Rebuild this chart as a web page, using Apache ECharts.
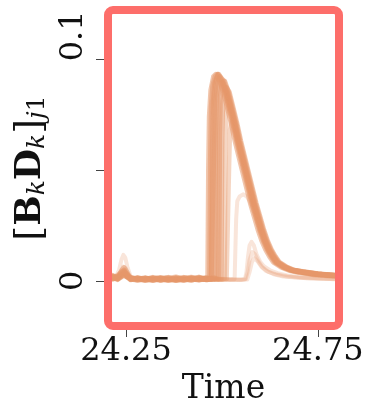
<!DOCTYPE html>
<html>
<head>
<meta charset="utf-8">
<script src="https://cdn.jsdelivr.net/npm/echarts@6/dist/echarts.min.js"></script>
<style>
html,body{margin:0;padding:0;background:#fff;}
#chart{width:370px;height:398px;}
</style>
</head>
<body>
<div id="chart"></div>
<script>
// ---- axis ticks / labels ----
const xTickValues = [24.25, 24.75];
const xTickLabels = ['24.25', '24.75'];
const yTickValues = [0, 0.05, 0.1];
const yLabelValues = [0, 0.1];
const yTickLabels = ['0', '0.1'];
const xName = 'Time';

// ---- traces: [time, value] ----
const trace1 = [[24.203,0.0025],[24.215,0.002],[24.228,0.0015],[24.238,0.003],[24.245,0.004],[24.252,0.0025],[24.262,0.001],[24.28,0.0008],[24.30,0.0015],[24.32,0.0005],[24.34,0.001],[24.36,0.0003],[24.38,0.0012],[24.40,0.0006],[24.42,0.0015],[24.44,0.0008],[24.455,0.0012],
[24.463,0.001],[24.465,0.05],[24.467,0.074],[24.471,0.086],[24.478,0.092],[24.484,0.093],[24.494,0.09],[24.504,0.085],[24.514,0.078],[24.524,0.071],[24.534,0.063],[24.544,0.056],[24.554,0.049],[24.564,0.042],[24.574,0.035],[24.584,0.029],[24.594,0.023],[24.604,0.018],[24.614,0.014],[24.624,0.011],[24.634,0.0085],[24.654,0.0062],[24.674,0.0048],[24.70,0.0038],[24.74,0.0028],[24.80,0.002]];
const trace2 = [[24.203,0.0015],[24.215,0.0022],[24.228,0.001],[24.238,0.0045],[24.245,0.006],[24.252,0.004],[24.262,0.0012],[24.28,0.0004],[24.30,0.001],[24.32,0.0012],[24.34,0.0002],[24.36,0.0009],[24.38,0.0004],[24.40,0.0014],[24.42,0.0007],[24.44,0.0016],[24.46,0.0006],
[24.468,0.001],[24.470,0.055],[24.472,0.078],[24.476,0.088],[24.482,0.092],[24.488,0.093],[24.498,0.09],[24.508,0.085],[24.518,0.078],[24.528,0.071],[24.538,0.063],[24.548,0.056],[24.558,0.049],[24.568,0.042],[24.578,0.035],[24.588,0.029],[24.598,0.023],[24.608,0.018],[24.618,0.014],[24.628,0.011],[24.638,0.0085],[24.658,0.0062],[24.678,0.0048],[24.70,0.0041],[24.74,0.003],[24.80,0.0023]];
const trace3 = [[24.203,0.003],[24.215,0.0012],[24.228,0.002],[24.238,0.0025],[24.245,0.003],[24.252,0.002],[24.262,0.0005],[24.28,0.0012],[24.30,0.0003],[24.32,0.001],[24.34,0.0015],[24.36,0.0007],[24.38,0.0002],[24.40,0.0009],[24.42,0.0004],[24.44,0.0011],[24.46,0.0014],
[24.473,0.001],[24.475,0.06],[24.477,0.08],[24.481,0.089],[24.487,0.092],[24.492,0.093],[24.502,0.09],[24.512,0.085],[24.522,0.078],[24.532,0.071],[24.542,0.063],[24.552,0.056],[24.562,0.049],[24.572,0.042],[24.582,0.035],[24.592,0.029],[24.602,0.023],[24.612,0.018],[24.622,0.014],[24.632,0.011],[24.642,0.0085],[24.662,0.0062],[24.682,0.0048],[24.71,0.0039],[24.75,0.003],[24.80,0.0024]];
const trace4 = [[24.203,0.002],[24.215,0.0008],[24.228,0.0018],[24.238,0.0035],[24.245,0.005],[24.252,0.003],[24.262,0.0015],[24.28,0.0006],[24.30,0.0012],[24.32,0.0002],[24.34,0.0008],[24.36,0.0016],[24.38,0.0006],[24.40,0.0002],[24.42,0.0012],[24.44,0.0005],[24.46,0.001],[24.472,0.0006],
[24.477,0.001],[24.479,0.06],[24.481,0.082],[24.485,0.09],[24.49,0.093],[24.5,0.09],[24.51,0.085],[24.52,0.078],[24.53,0.071],[24.54,0.063],[24.55,0.056],[24.56,0.049],[24.57,0.042],[24.58,0.035],[24.59,0.029],[24.6,0.023],[24.61,0.018],[24.62,0.014],[24.63,0.011],[24.64,0.0085],[24.66,0.0062],[24.68,0.0048],[24.7,0.004],[24.74,0.003],[24.8,0.0022]];
const trace5 = [[24.203,0.001],[24.215,0.0018],[24.228,0.0006],[24.238,0.002],[24.245,0.0028],[24.252,0.0018],[24.262,0.0008],[24.28,0.0015],[24.30,0.0006],[24.32,0.0014],[24.34,0.0004],[24.36,0.0011],[24.38,0.0018],[24.40,0.0008],[24.42,0.0003],[24.44,0.0013],[24.46,0.0007],[24.475,0.0012],
[24.481,0.001],[24.483,0.065],[24.485,0.083],[24.489,0.089],[24.495,0.092],[24.505,0.09],[24.515,0.085],[24.525,0.078],[24.535,0.071],[24.545,0.063],[24.555,0.056],[24.565,0.049],[24.575,0.042],[24.585,0.035],[24.595,0.029],[24.605,0.023],[24.615,0.018],[24.625,0.014],[24.635,0.011],[24.645,0.0085],[24.665,0.0062],[24.685,0.0048],[24.71,0.0042],[24.75,0.0032],[24.8,0.0025]];
const trace6 = [[24.203,0.0022],[24.215,0.0014],[24.228,0.0024],[24.238,0.004],[24.245,0.0045],[24.252,0.0026],[24.262,0.0009],[24.28,0.0003],[24.30,0.0008],[24.32,0.0016],[24.34,0.0009],[24.36,0.0002],[24.38,0.001],[24.40,0.0016],[24.42,0.0009],[24.44,0.0004],[24.46,0.0012],[24.48,0.0007],
[24.486,0.001],[24.488,0.065],[24.49,0.083],[24.494,0.089],[24.503,0.089],[24.513,0.085],[24.523,0.078],[24.533,0.071],[24.543,0.063],[24.553,0.056],[24.563,0.049],[24.573,0.042],[24.583,0.035],[24.593,0.029],[24.603,0.023],[24.613,0.018],[24.623,0.014],[24.633,0.011],[24.643,0.0085],[24.663,0.0062],[24.683,0.0048],[24.71,0.004],[24.75,0.0031],[24.8,0.0023]];
const trace7 = [[24.203,0.0018],[24.215,0.0025],[24.228,0.0012],[24.238,0.0022],[24.245,0.0035],[24.252,0.002],[24.262,0.0014],[24.28,0.0009],[24.30,0.0002],[24.32,0.0008],[24.34,0.0013],[24.36,0.0006],[24.38,0.0015],[24.40,0.0004],[24.42,0.001],[24.44,0.0017],[24.46,0.0005],[24.48,0.0011],
[24.492,0.001],[24.494,0.065],[24.496,0.083],[24.5,0.088],[24.507,0.09],[24.517,0.085],[24.527,0.078],[24.537,0.071],[24.547,0.063],[24.557,0.056],[24.567,0.049],[24.577,0.042],[24.587,0.035],[24.597,0.029],[24.607,0.023],[24.617,0.018],[24.627,0.014],[24.637,0.011],[24.647,0.0085],[24.667,0.0062],[24.687,0.0048],[24.71,0.0041],[24.75,0.0031],[24.8,0.0024]];
const trace8 = [[24.203,0.0028],[24.215,0.0016],[24.228,0.0008],[24.238,0.003],[24.245,0.0042],[24.252,0.0032],[24.262,0.0006],[24.28,0.0013],[24.30,0.0009],[24.32,0.0003],[24.34,0.0012],[24.36,0.0014],[24.38,0.0003],[24.40,0.0011],[24.42,0.0017],[24.44,0.0006],[24.46,0.0009],[24.48,0.0014],[24.49,0.0006],
[24.498,0.001],[24.5,0.065],[24.502,0.08],[24.506,0.086],[24.512,0.087],[24.519,0.085],[24.529,0.078],[24.539,0.071],[24.549,0.063],[24.559,0.056],[24.569,0.049],[24.579,0.042],[24.589,0.035],[24.599,0.029],[24.609,0.023],[24.619,0.018],[24.629,0.014],[24.639,0.011],[24.649,0.0085],[24.669,0.0062],[24.689,0.0048],[24.72,0.0038],[24.76,0.003],[24.8,0.0025]];
const trace9 = [[24.203,0.0012],[24.23,0.0015],[24.245,0.0032],[24.26,0.0012],[24.3,0.0007],[24.34,0.001],[24.38,0.0005],[24.42,0.0012],[24.46,0.0004],[24.49,0.001],[24.5,0.0006],
[24.507,0.001],[24.509,0.06],[24.511,0.076],[24.515,0.082],[24.52,0.081],[24.524,0.078],[24.534,0.071],[24.544,0.063],[24.554,0.056],[24.564,0.049],[24.574,0.042],[24.584,0.035],[24.594,0.029],[24.604,0.023],[24.614,0.018],[24.624,0.014],[24.634,0.011],[24.644,0.0085],[24.664,0.0062],[24.684,0.0048],[24.71,0.004],[24.75,0.003],[24.8,0.0023]];
const trace10 = [[24.203,0.0008],[24.23,0.001],[24.245,0.0025],[24.26,0.0008],[24.3,0.0012],[24.34,0.0004],[24.38,0.0011],[24.42,0.0006],[24.46,0.0012],[24.5,0.0005],[24.512,0.0008],
[24.517,0.001],[24.519,0.055],[24.521,0.068],[24.525,0.072],[24.532,0.069],[24.542,0.063],[24.552,0.056],[24.562,0.049],[24.572,0.042],[24.582,0.035],[24.592,0.029],[24.602,0.023],[24.612,0.018],[24.622,0.014],[24.632,0.011],[24.642,0.0085],[24.662,0.0062],[24.682,0.0048],[24.71,0.004],[24.75,0.003],[24.8,0.0022]];
const bumpTrace1 = [[24.203,0.001],[24.23,0.0012],[24.245,0.003],[24.26,0.001],[24.3,0.0005],[24.34,0.0012],[24.38,0.0006],[24.42,0.001],[24.46,0.0004],[24.5,0.0009],[24.52,0.0005],[24.533,0.0008],
[24.535,0.001],[24.537,0.028],[24.54,0.036],[24.546,0.038],[24.555,0.039],[24.565,0.038],[24.575,0.035],[24.585,0.03],[24.595,0.025],[24.605,0.02],[24.615,0.0155],[24.625,0.012],[24.64,0.009],[24.66,0.0065],[24.68,0.005],[24.71,0.004],[24.75,0.003],[24.8,0.0022]];
const bumpTrace2 = [[24.203,0.0008],[24.222,0.0012],[24.232,0.005],[24.238,0.0095],[24.243,0.0117],[24.248,0.0105],[24.254,0.006],[24.262,0.002],[24.28,0.0008],[24.32,0.0006],[24.36,0.001],[24.40,0.0004],[24.44,0.0009],[24.48,0.0005],[24.52,0.0008],[24.55,0.0004],
[24.56,0.0008],[24.564,0.004],[24.568,0.011],[24.572,0.016],[24.577,0.0176],[24.583,0.016],[24.59,0.012],[24.6,0.0085],[24.61,0.0065],[24.625,0.0048],[24.645,0.0035],[24.67,0.0025],[24.7,0.0018],[24.75,0.0012],[24.8,0.001]];
const bumpTrace3 = [[24.203,0.001],[24.225,0.0015],[24.236,0.004],[24.243,0.0065],[24.25,0.0055],[24.258,0.002],[24.28,0.0007],[24.32,0.001],[24.36,0.0004],[24.40,0.0009],[24.44,0.0003],[24.48,0.0008],[24.52,0.0004],
[24.562,0.0008],[24.567,0.004],[24.572,0.0095],[24.579,0.013],[24.586,0.012],[24.595,0.0088],[24.605,0.0062],[24.62,0.0042],[24.64,0.003],[24.67,0.002],[24.72,0.0012],[24.8,0.0008]];
const bumpTrace4 = [[24.203,0.0012],[24.23,0.0008],[24.245,0.002],[24.26,0.001],[24.3,0.0006],[24.34,0.0011],[24.38,0.0004],[24.42,0.0009],[24.46,0.0005],[24.5,0.001],[24.54,0.0005],
[24.566,0.0006],[24.572,0.004],[24.578,0.0085],[24.584,0.0102],[24.592,0.009],[24.602,0.0065],[24.615,0.0045],[24.635,0.003],[24.66,0.002],[24.7,0.0014],[24.8,0.0008]];

const mainTraces = [trace1, trace2, trace3, trace4, trace5, trace6, trace7, trace8];
const paleTraces = [trace9, trace10];
const lightTraces = [bumpTrace1, bumpTrace2, bumpTrace3, bumpTrace4];

// ---- styling ----
const xMin = 24.203, xMax = 24.805, yMin = -0.0203, yMax = 0.122;
const lineRGB = '230,152,106';
const serif = 'DejaVu Serif';

const chart = echarts.init(document.getElementById('chart'), null, {renderer: 'canvas'});

function mk(data, alpha, width) {
  return {
    type: 'line', data: data, showSymbol: false, symbol: 'none',
    lineStyle: {color: 'rgba(' + lineRGB + ',' + alpha + ')', width: width, join: 'round', cap: 'round'},
    silent: true, animation: false, z: 2
  };
}
const series = [];
lightTraces.forEach(d => series.push(mk(d, 0.25, 4)));
paleTraces.forEach(d => series.push(mk(d, 0.4, 4.5)));
mainTraces.forEach(d => series.push(mk(d, 0.55, 5)));

chart.setOption({
  animation: false,
  backgroundColor: '#fff',
  grid: {left: 108, right: 31, top: 10, bottom: 72, show: false, outerBoundsMode: 'none'},
  xAxis: {
    type: 'value', min: xMin, max: xMax,
    name: xName, nameLocation: 'middle', nameGap: 30,
    nameTextStyle: {fontFamily: serif, fontSize: 33, color: '#111', lineHeight: 33},
    axisLine: {show: false, onZero: false},
    splitLine: {show: false},
    axisTick: {show: true, customValues: xTickValues, length: 11, inside: false, lineStyle: {color: '#444', width: 1}},
    axisLabel: {
      customValues: xTickValues, margin: 10,
      formatter: v => xTickLabels[xTickValues.indexOf(v)],
      fontFamily: serif, fontSize: 32, color: '#111'
    }
  },
  yAxis: {
    type: 'value', min: yMin, max: yMax,
    name: '{n|[}{b|B}{s|k}{b|D}{s|k}{n|]}{s|j}{r|1}',
    nameLocation: 'middle', nameGap: 50,
    nameTextStyle: {
      fontFamily: serif, fontSize: 36, color: '#111',
      rich: {
        n: {fontFamily: serif, fontSize: 38, lineHeight: 38, color: '#111'},
        b: {fontFamily: serif, fontSize: 36, fontWeight: 'bold', lineHeight: 38, color: '#111'},
        s: {fontFamily: serif, fontSize: 25, fontStyle: 'italic', lineHeight: 22, verticalAlign: 'bottom', color: '#111'},
        r: {fontFamily: serif, fontSize: 25, lineHeight: 22, verticalAlign: 'bottom', color: '#111'}
      }
    },
    axisLine: {show: false, onZero: false},
    splitLine: {show: false},
    axisTick: {show: true, customValues: yTickValues, length: 12, inside: false, lineStyle: {color: '#444', width: 1}},
    axisLabel: {
      customValues: yLabelValues, rotate: 90, margin: 18,
      formatter: v => {
        const s = yTickLabels[yLabelValues.indexOf(v)];
        return v === 0 ? s : '{u|' + s + '}';
      },
      fontFamily: serif, fontSize: 32, color: '#111',
      rich: {u: {fontFamily: serif, fontSize: 32, color: '#111', padding: [0, 0, 0, 46]}}
    }
  },
  series: series
});

// thick rounded frame on the plot-area edges, positioned from the axis scales
const tl = chart.convertToPixel({gridIndex: 0}, [xMin, yMax]);
const br = chart.convertToPixel({gridIndex: 0}, [xMax, yMin]);
chart.setOption({
  graphic: [{
    type: 'rect', z: 100, silent: true,
    shape: {x: tl[0], y: tl[1], width: br[0] - tl[0], height: br[1] - tl[1], r: 5},
    style: {fill: 'transparent', stroke: '#fd6e6a', lineWidth: 8}
  }]
});
</script>
</body>
</html>
